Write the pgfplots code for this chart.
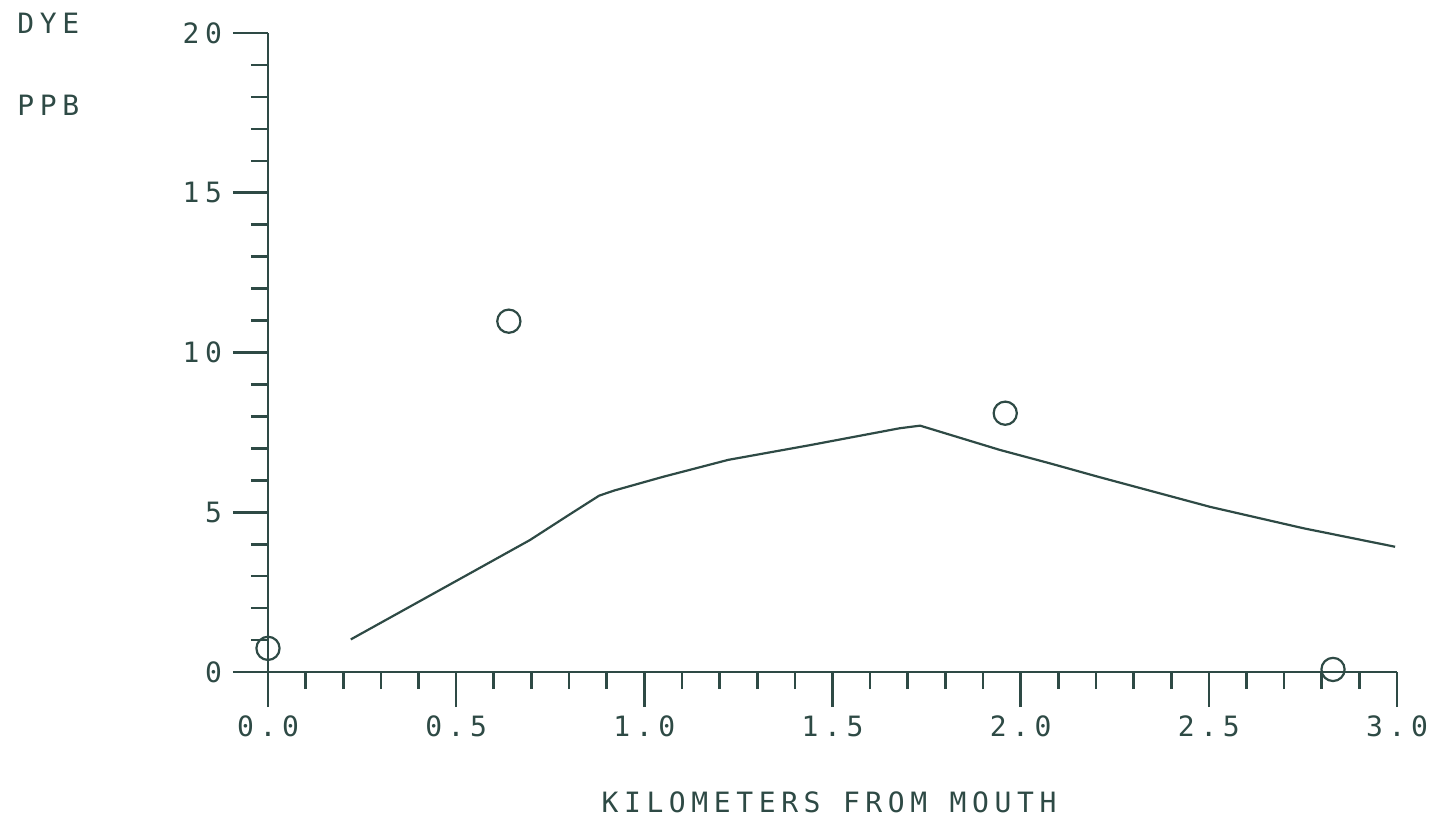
\documentclass[border=0pt]{standalone}
\usepackage{fontspec}
\usepackage{pgfplots}
\pgfplotsset{compat=1.18}
\newfontfamily\plotfont[LetterSpace=20]{DejaVu Sans Mono}
\definecolor{ink}{HTML}{2E4A45}

\begin{document}
\begin{tikzpicture}
\begin{axis}[
  scale only axis,
  width=564.5pt, height=319.5pt,
  xmin=0, xmax=3, ymin=0, ymax=20,
  axis x line=bottom, axis y line=left,
  axis line style={-, ink, line width=1.3pt},
  every tick/.style={ink, line width=1.3pt},
  tick align=outside,
  major tick length=17.5pt, minor tick length=8.5pt,
  xtick={0,0.5,1,1.5,2,2.5,3},
  xticklabels={0.0,0.5,1.0,1.5,2.0,2.5,3.0},
  ytick={0,5,10,15,20},
  yticklabels={0,5,10,15,20},
  minor x tick num=4, minor y tick num=4,
  ticklabel style={font=\plotfont\fontsize{14}{16}\selectfont, text=ink},
  xticklabel style={anchor=north, yshift=-1pt},
  yticklabel style={anchor=east, xshift=-2pt},
  clip=false,
]
\coordinate (o) at (axis cs:0,0);
% simulated dye concentration along the channel
\addplot[ink, line width=1.1pt, line join=round] coordinates {
  (0.220,1.02) (0.537,3.09) (0.696,4.13) (0.800,4.92) (0.880,5.52)
  (0.920,5.68) (1.050,6.11) (1.148,6.41) (1.223,6.64) (1.440,7.10)
  (1.679,7.63) (1.733,7.71) (1.945,6.95) (2.078,6.53) (2.206,6.11)
  (2.503,5.17) (2.751,4.50) (2.995,3.92)
};
% observed samples
\addplot[only marks, mark=o, mark size=5.8pt, ink,
  mark options={line width=1.1pt}] coordinates {
  (0.000,0.74) (0.640,10.98) (1.959,8.10) (2.830,0.08)
};
\end{axis}
\begin{scope}[font=\plotfont\fontsize{14}{16}\selectfont, text=ink]
\path (o) ++(-125.5pt,324.5pt) node[anchor=west, inner sep=0pt] {DYE};
\path (o) ++(-125.5pt,283.5pt) node[anchor=west, inner sep=0pt] {PPB};
\path (o) ++(280.5pt,-65.25pt) node[inner sep=0pt] {KILOMETERS FROM MOUTH};
\end{scope}
\pgfresetboundingbox
\path[use as bounding box] (o) ++(-134pt,-74pt) rectangle ++(717pt,410pt);
\end{tikzpicture}
\end{document}
